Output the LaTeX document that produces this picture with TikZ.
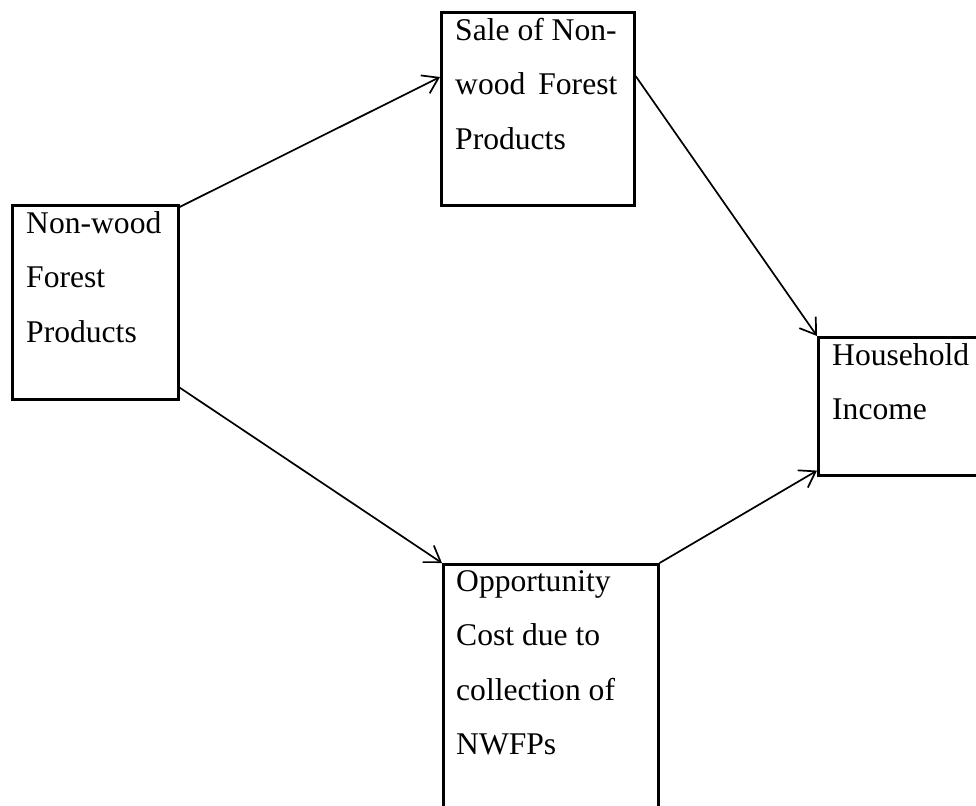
\documentclass[tikz,border=0pt]{standalone}
\usepackage{fontspec}
\setmainfont{Liberation Serif}
\usetikzlibrary{arrows.meta}
\tikzset{
  box/.style={draw, line width=2.6pt, rectangle, inner sep=0pt, anchor=north west},
  boxtext/.style={anchor=north west, inner sep=0pt, align=left,
    font=\fontsize{31.6}{54.5}\selectfont},
  link/.style={line width=1.7pt, -{Straight Barb[length=15pt, width=20pt, line width=1.7pt]}},
}
\begin{document}
\begin{tikzpicture}[x=1pt, y=-1pt]
  \useasboundingbox (0,0) rectangle (976,805);
  \clip (0,0) rectangle (976,805);
  % boxes
  \node[box, minimum width=166pt, minimum height=194pt] (nwfp) at (11,204) {};
  \node[box, minimum width=193pt, minimum height=193pt] (sale) at (440,11) {};
  \node[box, minimum width=200pt, minimum height=138pt] (income) at (817,336) {};
  \node[box, minimum width=215pt, minimum height=280pt] (opp) at (442,563) {};
  % box texts
  \node[boxtext] (nwfpT) at ([shift={(15,7)}]nwfp.north west) {Non-wood\\Forest\\Products};
  \node[boxtext] (saleT) at ([shift={(15,7)}]sale.north west) {Sale of Non-\\wood\hspace{0.41em}Forest\\Products};
  \node[boxtext] (incomeT) at ([shift={(15,7)}]income.north west) {Household\\Income};
  \node[boxtext] (oppT) at ([shift={(14,7)}]opp.north west) {Opportunity\\Cost due to\\collection of\\NWFPs};
  % connectors (yshift works in canvas units: negative moves down)
  \draw[link] ([yshift=-3pt]nwfp.north east) -- ([yshift=-66pt]sale.north west);
  \draw[link] ([yshift=-65pt]sale.north east) -- (income.north west);
  \draw[link] ([yshift=13pt]nwfp.south east) -- (opp.north west);
  \draw[link] (opp.north east) -- ([yshift=6pt]income.south west);
\end{tikzpicture}
\end{document}
